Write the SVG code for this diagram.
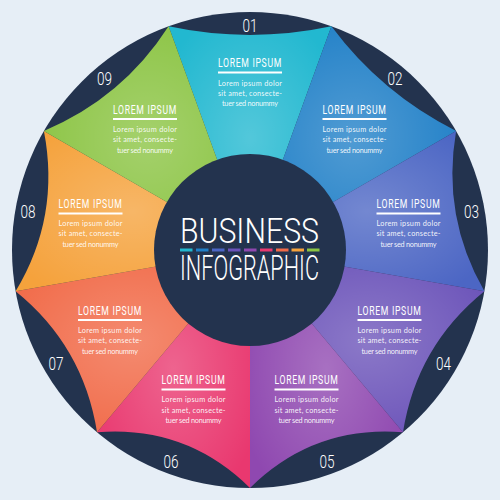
<svg xmlns="http://www.w3.org/2000/svg" width="500" height="500" viewBox="0 0 500 500">
<style>
.ring{fill:#23334e}
.shine{fill:url(#shine)}
.num{font-family:"Roboto","Open Sans","Liberation Sans",sans-serif;font-weight:300;font-size:19px;fill:#ffffff}
.ttl{font-family:"Roboto","Open Sans","Liberation Sans",sans-serif;font-weight:400;font-size:12.5px;fill:#ffffff;letter-spacing:1px;text-anchor:middle}
.ul{fill:#ffffff}
.body{font-family:"Lato","Open Sans","Liberation Sans",sans-serif;font-size:7.3px;fill:#ffffff;fill-opacity:0.92}
.big{font-family:"Roboto","Open Sans","Liberation Sans",sans-serif;font-weight:300;font-size:35px;fill:#ffffff}
</style>
<defs>
<radialGradient id="shine" cx="0.5" cy="0.5" r="0.6">
<stop offset="0" stop-color="#ffffff" stop-opacity="0.22"/>
<stop offset="1" stop-color="#ffffff" stop-opacity="0"/>
</radialGradient>
</defs>
<rect width="500" height="500" fill="#e6eef6"/>
<circle class="ring" cx="250" cy="250" r="238"/>

<g id="sector-01">
<path d="M250,250 L168.60,26.35 Q250,43.65 331.40,26.35 Z" fill="#22b8d0"/>
<path class="shine" d="M250,250 L168.60,26.35 Q250,43.65 331.40,26.35 Z"/>
<text class="num" x="242.5" y="31.5" textLength="15" lengthAdjust="spacingAndGlyphs">01</text>
<text class="ttl" x="0" y="0" transform="translate(250,67) scale(0.78,1)" textLength="82" lengthAdjust="spacingAndGlyphs">LOREM IPSUM</text>
<rect class="ul" x="218" y="71.5" width="64" height="2"/>
<text class="body" x="218" y="85.5" textLength="64" lengthAdjust="spacing">Lorem ipsum dolor</text>
<text class="body" x="218" y="95.5" textLength="64" lengthAdjust="spacing">sit amet, consecte-</text>
<text class="body" x="222" y="106" textLength="56" lengthAdjust="spacing">tuer sed nonummy</text>
</g>

<g id="sector-02">
<path d="M250,250 L331.40,26.35 Q381.35,93.46 456.11,131 Z" fill="#1f7fc7"/>
<path class="shine" d="M250,250 L331.40,26.35 Q381.35,93.46 456.11,131 Z"/>
<text class="num" x="387.5" y="84.5" textLength="15" lengthAdjust="spacingAndGlyphs">02</text>
<text class="ttl" x="0" y="0" transform="translate(354.5,113.5) scale(0.78,1)" textLength="82" lengthAdjust="spacingAndGlyphs">LOREM IPSUM</text>
<rect class="ul" x="322.5" y="118" width="64" height="2"/>
<text class="body" x="322.5" y="132" textLength="64" lengthAdjust="spacing">Lorem ipsum dolor</text>
<text class="body" x="322.5" y="142" textLength="64" lengthAdjust="spacing">sit amet, consecte-</text>
<text class="body" x="326.5" y="152.5" textLength="56" lengthAdjust="spacing">tuer sed nonummy</text>
</g>

<g id="sector-03">
<path d="M250,250 L456.11,131 Q441.40,216.25 484.38,291.33 Z" fill="#4c66c4"/>
<path class="shine" d="M250,250 L456.11,131 Q441.40,216.25 484.38,291.33 Z"/>
<text class="num" x="464" y="218" textLength="15" lengthAdjust="spacingAndGlyphs">03</text>
<text class="ttl" x="0" y="0" transform="translate(408.5,208) scale(0.78,1)" textLength="82" lengthAdjust="spacingAndGlyphs">LOREM IPSUM</text>
<rect class="ul" x="376.5" y="212.5" width="64" height="2"/>
<text class="body" x="376.5" y="226" textLength="64" lengthAdjust="spacing">Lorem ipsum dolor</text>
<text class="body" x="376.5" y="236" textLength="64" lengthAdjust="spacing">sit amet, consecte-</text>
<text class="body" x="380.5" y="246.5" textLength="56" lengthAdjust="spacing">tuer sed nonummy</text>
</g>

<g id="sector-04">
<path d="M250,250 L484.38,291.33 Q416.58,346.18 402.98,432.32 Z" fill="#6b53b9"/>
<path class="shine" d="M250,250 L484.38,291.33 Q416.58,346.18 402.98,432.32 Z"/>
<text class="num" x="436" y="369.5" textLength="15" lengthAdjust="spacingAndGlyphs">04</text>
<text class="ttl" x="0" y="0" transform="translate(389.5,314.5) scale(0.78,1)" textLength="82" lengthAdjust="spacingAndGlyphs">LOREM IPSUM</text>
<rect class="ul" x="357.5" y="319" width="64" height="2"/>
<text class="body" x="357.5" y="333" textLength="64" lengthAdjust="spacing">Lorem ipsum dolor</text>
<text class="body" x="357.5" y="343" textLength="64" lengthAdjust="spacing">sit amet, consecte-</text>
<text class="body" x="361.5" y="353.5" textLength="56" lengthAdjust="spacing">tuer sed nonummy</text>
</g>

<g id="sector-05">
<path d="M250,250 L402.98,432.32 Q313.74,425.11 250,488 Z" fill="#8f48b0"/>
<path class="shine" d="M250,250 L402.98,432.32 Q313.74,425.11 250,488 Z"/>
<text class="num" x="319.5" y="468" textLength="15" lengthAdjust="spacingAndGlyphs">05</text>
<text class="ttl" x="0" y="0" transform="translate(306.5,384) scale(0.78,1)" textLength="82" lengthAdjust="spacingAndGlyphs">LOREM IPSUM</text>
<rect class="ul" x="274.5" y="388.5" width="64" height="2"/>
<text class="body" x="274.5" y="402" textLength="64" lengthAdjust="spacing">Lorem ipsum dolor</text>
<text class="body" x="274.5" y="412.5" textLength="64" lengthAdjust="spacing">sit amet, consecte-</text>
<text class="body" x="278.5" y="423" textLength="56" lengthAdjust="spacing">tuer sed nonummy</text>
</g>

<g id="sector-06">
<path d="M250,250 L250,488 Q186.26,425.11 97.02,432.32 Z" fill="#e9386f"/>
<path class="shine" d="M250,250 L250,488 Q186.26,425.11 97.02,432.32 Z"/>
<text class="num" x="163.5" y="468" textLength="15" lengthAdjust="spacingAndGlyphs">06</text>
<text class="ttl" x="0" y="0" transform="translate(193.5,384) scale(0.78,1)" textLength="82" lengthAdjust="spacingAndGlyphs">LOREM IPSUM</text>
<rect class="ul" x="161.5" y="388.5" width="64" height="2"/>
<text class="body" x="161.5" y="402" textLength="64" lengthAdjust="spacing">Lorem ipsum dolor</text>
<text class="body" x="161.5" y="412.5" textLength="64" lengthAdjust="spacing">sit amet, consecte-</text>
<text class="body" x="165.5" y="423" textLength="56" lengthAdjust="spacing">tuer sed nonummy</text>
</g>

<g id="sector-07">
<path d="M250,250 L97.02,432.32 Q83.42,346.18 15.62,291.33 Z" fill="#f16a48"/>
<path class="shine" d="M250,250 L97.02,432.32 Q83.42,346.18 15.62,291.33 Z"/>
<text class="num" x="48.5" y="369.5" textLength="15" lengthAdjust="spacingAndGlyphs">07</text>
<text class="ttl" x="0" y="0" transform="translate(110,314.5) scale(0.78,1)" textLength="82" lengthAdjust="spacingAndGlyphs">LOREM IPSUM</text>
<rect class="ul" x="78" y="319" width="64" height="2"/>
<text class="body" x="78" y="333" textLength="64" lengthAdjust="spacing">Lorem ipsum dolor</text>
<text class="body" x="78" y="343" textLength="64" lengthAdjust="spacing">sit amet, consecte-</text>
<text class="body" x="82" y="353.5" textLength="56" lengthAdjust="spacing">tuer sed nonummy</text>
</g>

<g id="sector-08">
<path d="M250,250 L15.62,291.33 Q60.57,216.60 43.89,131 Z" fill="#f5a23c"/>
<path class="shine" d="M250,250 L15.62,291.33 Q60.57,216.60 43.89,131 Z"/>
<text class="num" x="20.5" y="218" textLength="15" lengthAdjust="spacingAndGlyphs">08</text>
<text class="ttl" x="0" y="0" transform="translate(90.5,208) scale(0.78,1)" textLength="82" lengthAdjust="spacingAndGlyphs">LOREM IPSUM</text>
<rect class="ul" x="58.5" y="212.5" width="64" height="2"/>
<text class="body" x="58.5" y="226" textLength="64" lengthAdjust="spacing">Lorem ipsum dolor</text>
<text class="body" x="58.5" y="236" textLength="64" lengthAdjust="spacing">sit amet, consecte-</text>
<text class="body" x="62.5" y="246.5" textLength="56" lengthAdjust="spacing">tuer sed nonummy</text>
</g>

<g id="sector-09">
<path d="M250,250 L43.89,131 Q122.50,98.06 168.60,26.35 Z" fill="#8bc443"/>
<path class="shine" d="M250,250 L43.89,131 Q122.50,98.06 168.60,26.35 Z"/>
<text class="num" x="97" y="84.5" textLength="15" lengthAdjust="spacingAndGlyphs">09</text>
<text class="ttl" x="0" y="0" transform="translate(145,113.5) scale(0.78,1)" textLength="82" lengthAdjust="spacingAndGlyphs">LOREM IPSUM</text>
<rect class="ul" x="113" y="118" width="64" height="2"/>
<text class="body" x="113" y="132" textLength="64" lengthAdjust="spacing">Lorem ipsum dolor</text>
<text class="body" x="113" y="142" textLength="64" lengthAdjust="spacing">sit amet, consecte-</text>
<text class="body" x="117" y="152.5" textLength="56" lengthAdjust="spacing">tuer sed nonummy</text>
</g>

<g id="connectors"></g>

<g id="center">
<circle class="ring" cx="250" cy="250" r="96"/>
<text class="big" x="180" y="243" textLength="139" lengthAdjust="spacingAndGlyphs">BUSINESS</text>
<rect x="180" y="248.5" width="12.5" height="3" fill="#22b8d0"/>
<rect x="196" y="248.5" width="12.5" height="3" fill="#1f7fc7"/>
<rect x="212" y="248.5" width="12.5" height="3" fill="#4c66c4"/>
<rect x="228" y="248.5" width="12.5" height="3" fill="#6b53b9"/>
<rect x="244" y="248.5" width="12.5" height="3" fill="#8f48b0"/>
<rect x="260" y="248.5" width="12.5" height="3" fill="#e9386f"/>
<rect x="276" y="248.5" width="12.5" height="3" fill="#f16a48"/>
<rect x="291.5" y="248.5" width="12.5" height="3" fill="#f5a23c"/>
<rect x="307" y="248.5" width="12.5" height="3" fill="#8bc443"/>
<text class="big" x="180" y="280" textLength="139" lengthAdjust="spacingAndGlyphs">INFOGRAPHIC</text>
</g>
</svg>
